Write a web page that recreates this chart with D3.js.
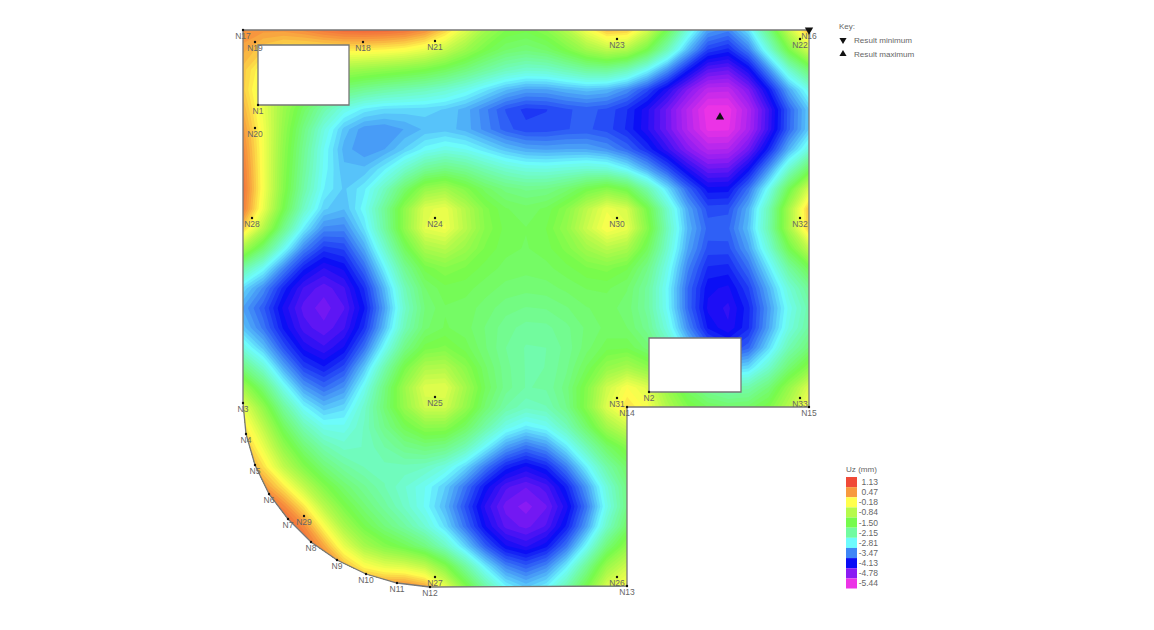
<!DOCTYPE html>
<html>
<head>
<meta charset="utf-8">
<script src="https://cdn.jsdelivr.net/npm/d3@7"></script>
<style>
  html, body { margin: 0; background: #fff; }
  text { font-family: "Liberation Sans", Arial, sans-serif; }
</style>
</head>
<body>
<div id="chart"></div>
<script>
// legend levels and colours, Uz in mm
var uzLevels = [1.13, 0.47, -0.18, -0.84, -1.50, -2.15, -2.81, -3.47, -4.13, -4.78, -5.44];
var uzColors = ["#f04a38", "#f79a3e", "#ffff4d", "#b6fa4b", "#76fb4c", "#72fba0", "#6dfbfd", "#3f86f6", "#0a0cf5", "#8a1bf3", "#ec33e6"];

// Uz, 29 rows of 29 samples over the plate
var uzGrid = [
  [.7,.7,.8,1.0,1.3,1.5,1.5,1.5,1.5,1.3,.8,-.1,-1.0,-1.4,-1.5,-1.2,-.7,.1,1.2,1.2,.1,-1.3,-2.3,-3.3,-3.5,-2.8,-1.7,-.3,1.4],
  [.6,-.1,-.2,-.2,-.2,-.1,-.2,-.2,-.3,-.4,-.9,-1.2,-1.5,-1.7,-1.8,-1.7,-1.4,-1.0,-.6,-.7,-1.3,-2.1,-3.1,-4.2,-4.4,-3.8,-2.6,-1.3,.2],
  [.4,-.5,-.8,-1.0,-1.1,-1.2,-1.3,-1.4,-1.5,-1.5,-1.6,-1.8,-2.0,-2.2,-2.4,-2.4,-2.2,-2.0,-2.0,-2.3,-2.9,-3.5,-4.2,-4.7,-4.8,-4.4,-3.6,-2.7,-1.7],
  [.5,-.9,-1.2,-1.4,-1.6,-1.8,-1.9,-2.1,-2.2,-2.4,-2.5,-2.7,-3.0,-3.3,-3.5,-3.5,-3.4,-3.3,-3.4,-3.7,-4.1,-4.5,-4.9,-5.4,-5.4,-4.9,-4.3,-3.4,-2.5],
  [.8,-.4,-1.2,-1.7,-2.5,-3.0,-3.2,-3.3,-3.3,-3.3,-3.4,-3.5,-3.8,-4.2,-4.4,-4.2,-4.0,-3.9,-4.0,-4.1,-4.4,-4.8,-5.2,-5.9,-5.9,-5.2,-4.6,-3.9,-2.9],
  [1.0,-.3,-1.3,-1.9,-2.8,-3.4,-3.7,-3.7,-3.5,-3.3,-3.3,-3.4,-3.7,-4.0,-4.1,-4.0,-3.9,-3.8,-3.9,-4.0,-4.3,-4.7,-5.1,-5.8,-5.8,-5.2,-4.6,-3.9,-2.9],
  [1.2,-.4,-1.4,-2.0,-2.9,-3.5,-3.6,-3.5,-3.3,-2.9,-2.6,-2.7,-2.9,-3.1,-3.3,-3.4,-3.4,-3.4,-3.5,-3.8,-4.1,-4.5,-4.9,-5.2,-5.2,-4.8,-4.2,-3.3,-2.5],
  [1.4,-.5,-1.4,-2.1,-2.9,-3.3,-3.3,-2.9,-2.5,-2.1,-1.9,-2.1,-2.4,-2.6,-2.7,-2.7,-2.6,-2.6,-2.8,-3.2,-3.6,-3.9,-4.4,-4.8,-4.8,-4.3,-3.5,-2.7,-1.4],
  [1.5,-.5,-1.4,-2.2,-3.0,-3.3,-2.9,-2.4,-1.7,-.9,-.8,-1.3,-1.5,-1.7,-1.8,-1.8,-1.7,-1.4,-.9,-1.2,-2.1,-2.7,-3.4,-4.4,-4.4,-3.5,-2.7,-1.6,.4],
  [1.6,-.3,-1.4,-2.3,-3.2,-3.3,-2.7,-1.9,-1.1,.3,.5,-.8,-1.5,-1.6,-1.7,-1.6,-1.3,-.6,.5,.5,-1.3,-2.4,-3.3,-4.0,-3.9,-3.2,-2.4,-1.0,1.4],
  [1.3,-.8,-1.9,-3.0,-3.7,-3.8,-3.0,-2.0,-1.1,.5,.6,-.7,-1.5,-1.6,-1.7,-1.6,-1.2,-.3,.8,.7,-1.2,-2.4,-3.3,-3.7,-3.7,-3.2,-2.3,-.9,1.6],
  [-.5,-2.0,-2.7,-3.6,-4.2,-4.1,-3.3,-2.6,-1.7,-.8,-.8,-1.3,-1.5,-1.6,-1.7,-1.6,-1.5,-1.2,-.9,-.9,-1.6,-2.4,-3.4,-4.0,-4.0,-3.4,-2.6,-1.6,-.5],
  [-2.2,-2.9,-3.6,-4.3,-4.5,-4.3,-3.7,-2.8,-1.9,-1.5,-1.4,-1.5,-1.6,-1.7,-1.7,-1.7,-1.6,-1.5,-1.5,-1.6,-1.9,-2.6,-3.7,-4.2,-4.2,-3.7,-3.0,-2.2,-1.5],
  [-2.9,-3.5,-4.3,-4.6,-4.8,-4.6,-4.2,-3.4,-2.2,-1.6,-1.5,-1.6,-1.7,-1.8,-1.8,-1.8,-1.7,-1.6,-1.6,-1.7,-2.0,-2.8,-3.9,-4.4,-4.4,-4.1,-3.3,-2.6,-1.9],
  [-3.4,-3.9,-4.5,-4.7,-4.9,-4.7,-4.4,-3.6,-2.4,-1.7,-1.6,-1.7,-1.8,-2.0,-2.0,-2.0,-1.9,-1.7,-1.7,-1.7,-2.0,-2.7,-3.9,-4.5,-4.5,-4.2,-3.4,-2.8,-2.1],
  [-3.0,-3.6,-4.3,-4.5,-4.8,-4.5,-4.2,-3.4,-2.2,-1.7,-1.6,-1.7,-1.9,-2.1,-2.2,-2.2,-2.1,-1.9,-1.7,-1.7,-1.9,-2.5,-3.6,-4.5,-4.6,-4.3,-3.4,-2.7,-2.0],
  [-2.4,-3.2,-3.9,-4.4,-4.6,-4.4,-3.8,-2.8,-1.8,-1.5,-1.5,-1.7,-1.9,-2.2,-2.3,-2.3,-2.1,-1.8,-1.6,-1.6,-1.8,-2.3,-3.1,-4.1,-4.4,-4.2,-3.0,-2.1,-1.7],
  [-1.7,-2.5,-3.4,-4.1,-4.3,-4.0,-3.1,-2.1,-1.3,-.7,-.7,-1.3,-1.8,-2.1,-2.3,-2.3,-2.1,-1.8,-1.2,-1.1,-1.5,-2.0,-2.5,-3.0,-3.2,-3.3,-2.6,-1.9,-1.3],
  [-.5,-1.8,-2.8,-3.5,-3.9,-3.7,-2.7,-1.7,-1.0,.3,.5,-1.0,-1.7,-2.0,-2.2,-2.2,-2.0,-1.5,-.3,.5,.3,-1.2,-1.6,-2.0,-2.2,-2.4,-1.8,-1.3,.0],
  [.4,-1.3,-2.1,-2.9,-3.4,-3.2,-2.3,-1.7,-1.0,.1,.2,-1.1,-1.8,-2.1,-2.3,-2.2,-2.0,-1.2,.3,1.3,.7,-.7,-1.3,-1.5,-1.6,-1.5,-1.4,-.6,1.7],
  [.6,-1.0,-1.7,-2.4,-2.9,-2.8,-2.3,-2.0,-1.7,-1.4,-1.4,-1.7,-2.1,-2.7,-3.0,-2.8,-2.3,-1.8,-1.2,-.2,-1.5,-1.5,-1.5,-1.5,-1.5,-1.5,-1.5,-1.5,-1.5],
  [.8,-.3,-1.3,-1.7,-2.3,-2.7,-2.6,-2.1,-1.9,-1.7,-1.7,-2.0,-2.7,-3.4,-4.0,-3.5,-2.9,-2.3,-1.8,-1.3,-1.5,-1.5,-1.5,-1.5,-1.5,-1.5,-1.5,-1.5,-1.5],
  [1.0,-.1,-1.3,-1.6,-1.9,-2.2,-2.6,-2.5,-2.4,-2.4,-2.7,-3.0,-3.7,-4.2,-4.5,-4.2,-3.6,-2.8,-2.1,-1.6,-1.5,-1.5,-1.5,-1.5,-1.5,-1.5,-1.5,-1.5,-1.5],
  [1.1,.8,.3,-.9,-1.5,-1.7,-1.9,-2.3,-2.7,-2.9,-3.1,-3.7,-4.4,-4.7,-4.8,-4.7,-4.3,-3.5,-2.6,-1.8,-1.5,-1.5,-1.5,-1.5,-1.5,-1.5,-1.5,-1.5,-1.5],
  [1.1,1.1,1.0,.2,-1.2,-1.6,-1.9,-2.2,-2.5,-2.8,-3.2,-4.0,-4.6,-4.9,-5.0,-4.9,-4.5,-4.1,-2.7,-1.9,-1.5,-1.5,-1.5,-1.5,-1.5,-1.5,-1.5,-1.5,-1.5],
  [1.1,1.1,1.3,1.2,-.3,-1.3,-1.6,-1.9,-2.2,-2.6,-3.0,-3.7,-4.4,-4.7,-4.8,-4.7,-4.2,-3.6,-2.5,-1.6,-1.5,-1.5,-1.5,-1.5,-1.5,-1.5,-1.5,-1.5,-1.5],
  [1.1,1.1,1.3,1.3,.8,-.6,-1.4,-1.6,-1.8,-2.2,-2.7,-3.2,-4.0,-4.5,-4.6,-4.4,-3.8,-2.9,-1.9,-.6,-1.5,-1.5,-1.5,-1.5,-1.5,-1.5,-1.5,-1.5,-1.5],
  [1.1,1.1,1.1,1.1,1.1,.4,-.5,-.8,-.8,-.6,-1.3,-2.1,-3.0,-3.7,-4.0,-3.7,-3.0,-2.1,-1.1,.3,-1.5,-1.5,-1.5,-1.5,-1.5,-1.5,-1.5,-1.5,-1.5],
  [1.1,1.1,1.1,1.1,1.1,1.1,1.1,1.2,1.5,1.5,.2,-1.2,-1.8,-2.6,-3.1,-2.6,-2.0,-1.4,-.1,1.4,-1.5,-1.5,-1.5,-1.5,-1.5,-1.5,-1.5,-1.5,-1.5]
];

// plate nodes, plate x and y
var nodeNames = ["N17","N19","N18","N21","N23","N22","N16","N1","N20","N28","N24","N30","N32","N25","N31","N33","N2","N14","N15","N13","N26","N27","N29","N12","N11","N10","N9","N8","N7","N6","N5","N4","N3"];
var nodeX = [0,12,120,192,374,557,566,15,12,9,192,374,557,192,374,557,406,384,566,384,374,192,61,187,154,123,94,68,45,26,12,3,0];
var nodeY = [0,12,12,11,9,9,0,75,98,188,188,188,188,367,368,368,362,377,377,556,547,547,486,557,553,544,530,512,489,464,435,404,373];

var outlineNodes = ["N17","N16","N15","N14","N13","N12","N11","N10","N9","N8","N7","N6","N5","N4","N3"];
var holeA = [[15,15],[106,15],[106,75],[15,75]];
var holeB = [[406,308],[498,308],[498,362],[406,362]];

var peakX = 477, peakY = 87;
var keyLabels = ["Result minimum", "Result maximum"];

var width = 1154, height = 630;

var svg = d3.select("#chart").append("svg")
    .attr("width", width)
    .attr("height", height)
    .style("display", "block");

var x = d3.scaleLinear().domain([0, 566]).range([243, 809]);
var y = d3.scaleLinear().domain([0, 556]).range([30, 586]);
// grid sample number to plate position
var colX = d3.scaleLinear().domain([0, 28]).range([243, 809]);
var rowY = d3.scaleLinear().domain([0, 28]).range([30, 586]);

var color = d3.scaleLinear().domain(uzLevels).range(uzColors).interpolate(d3.interpolateRgb).clamp(true);

var nCols = uzGrid[0].length, nRows = uzGrid.length;
var step = 0.11;
var thresholds = d3.range(-6.04, 1.7, step);

// a light blur takes the corners off the coarse sample grid
var field = {data: Float64Array.from(uzGrid.flat()), width: nCols, height: nRows};
d3.blur2(field, 0.2);

var contours = d3.contours().size([nCols, nRows]).smooth(true).thresholds(thresholds)(field.data);

var project = d3.geoTransform({
  point: function(px, py) { this.stream.point(colX(px - 0.5), rowY(py - 0.5)); }
});

var byName = {};
nodeNames.forEach(function(n, i) { byName[n] = [nodeX[i], nodeY[i]]; });

var line = d3.line().x(function(d) { return x(d[0]); }).y(function(d) { return y(d[1]); });
var outlinePts = outlineNodes.map(function(n) { return byName[n]; });

// clip the contours to the plate with its two openings
svg.append("defs").append("clipPath").attr("id", "plate")
  .append("path")
    .attr("clip-rule", "evenodd")
    .attr("d", line(outlinePts) + "Z" + line(holeA) + "Z" + line(holeB) + "Z");

svg.append("g").attr("clip-path", "url(#plate)")
  .selectAll("path")
  .data(contours)
  .enter().append("path")
    .attr("d", d3.geoPath(project))
    .attr("fill", function(d) { return color(d.value + step / 2); });

svg.selectAll(".edge")
  .data([outlinePts, holeA, holeB])
  .enter().append("path")
    .attr("class", "edge")
    .attr("d", function(d) { return line(d) + "Z"; })
    .attr("fill", "none")
    .attr("stroke", "#777")
    .attr("stroke-width", 1.3);

// nodes
svg.selectAll(".dot")
  .data(nodeNames)
  .enter().append("circle")
    .attr("class", "dot")
    .attr("cx", function(d) { return x(byName[d][0]); })
    .attr("cy", function(d) { return y(byName[d][1]); })
    .attr("r", 1.2)
    .attr("fill", "#111");

svg.selectAll(".nodelabel")
  .data(nodeNames)
  .enter().append("text")
    .attr("class", "nodelabel")
    .attr("x", function(d) { return x(byName[d][0]); })
    .attr("y", function(d) { return y(byName[d][1]) + 9; })
    .attr("text-anchor", "middle")
    .attr("font-size", 8.5)
    .attr("fill", "#666")
    .text(function(d) { return d; });

// result markers
var tri = d3.symbol().type(d3.symbolTriangle).size(30);
svg.append("path").attr("d", tri())
    .attr("transform", "translate(" + x(566) + "," + y(0) + ") rotate(180)")
    .attr("fill", "#111");
svg.append("path").attr("d", tri())
    .attr("transform", "translate(" + x(peakX) + "," + y(peakY) + ")")
    .attr("fill", "#111");

// key
svg.append("text").attr("x", 839).attr("y", 29)
    .attr("font-size", 8).attr("fill", "#666").text("Key:");
var key = svg.selectAll(".key").data(keyLabels).enter().append("g")
    .attr("class", "key")
    .attr("transform", function(d, i) { return "translate(843," + (40 + i * 14) + ")"; });
key.append("path").attr("d", tri.size(22)())
    .attr("transform", function(d, i) { return i == 0 ? "rotate(180)" : null; })
    .attr("fill", "#111");
key.append("text").attr("x", 11).attr("y", 3)
    .attr("font-size", 8.1).attr("fill", "#666")
    .text(function(d) { return d; });

// colour legend
svg.append("text").attr("x", 846).attr("y", 472)
    .attr("font-size", 8.1).attr("fill", "#666").text("Uz (mm)");

var legendY = d3.scaleBand().domain(uzLevels).range([477, 588.5]);

svg.selectAll(".swatch")
  .data(uzLevels)
  .enter().append("rect")
    .attr("class", "swatch")
    .attr("x", 846)
    .attr("y", function(d) { return legendY(d); })
    .attr("width", 11)
    .attr("height", legendY.bandwidth())
    .attr("fill", function(d, i) { return uzColors[i]; });

svg.selectAll(".swatchlabel")
  .data(uzLevels)
  .enter().append("text")
    .attr("class", "swatchlabel")
    .attr("x", 878)
    .attr("y", function(d) { return legendY(d) + legendY.bandwidth() / 2 + 3; })
    .attr("text-anchor", "end")
    .attr("font-size", 8.5)
    .attr("fill", "#666")
    .text(function(d) { return d.toFixed(2); });
</script>
</body>
</html>
